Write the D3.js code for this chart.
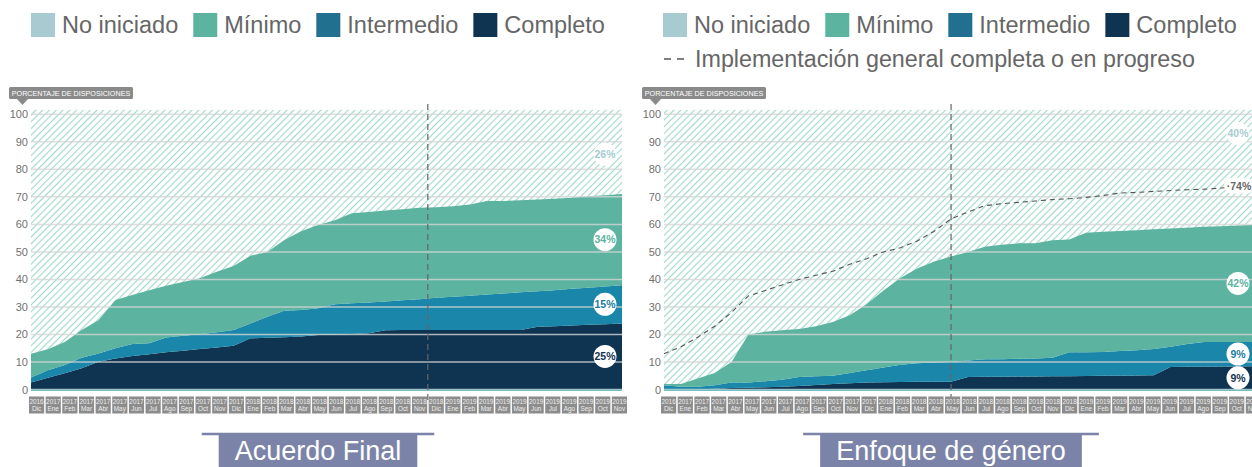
<!DOCTYPE html>
<html>
<head>
<meta charset="utf-8">
<script src="https://cdn.jsdelivr.net/npm/d3@7"></script>
<style>
    body { margin: 0; background: #fff; }
    svg { display: block; font-family: "Liberation Sans", Arial, Helvetica, sans-serif; }
</style>
</head>
<body>
<svg id="chart" width="1252" height="467"></svg>
<script>
// categories / tick labels
const categories = ['No iniciado', 'Mínimo', 'Intermedio', 'Completo']
const periods = [
    '2016 Dic',
    '2017 Ene', '2017 Feb', '2017 Mar', '2017 Abr', '2017 May', '2017 Jun',
    '2017 Jul', '2017 Ago', '2017 Sep', '2017 Oct', '2017 Nov', '2017 Dic',
    '2018 Ene', '2018 Feb', '2018 Mar', '2018 Abr', '2018 May', '2018 Jun',
    '2018 Jul', '2018 Ago', '2018 Sep', '2018 Oct', '2018 Nov', '2018 Dic',
    '2019 Ene', '2019 Feb', '2019 Mar', '2019 Abr', '2019 May', '2019 Jun',
    '2019 Jul', '2019 Ago', '2019 Sep', '2019 Oct', '2019 Nov'
]
const yTicks = [0, 10, 20, 30, 40, 50, 60, 70, 80, 90, 100]

// Acuerdo Final (% of provisions per level)
const acuerdoCompleto = [2.5, 4.3, 5.9, 7.7, 10.1, 11.3, 12.2, 12.8, 13.5, 14.1, 14.7, 15.3, 15.9, 18.6, 18.8, 19, 19.3, 19.8,
    20, 20.2, 20.4, 21.5, 21.6, 21.6, 21.6, 21.6, 21.6, 21.6, 21.6, 21.6, 22.8, 23, 23.3, 23.5, 23.7, 24]
const acuerdoIntermedio = [1.9, 2.7, 3.0, 3.8, 3.0, 3.7, 4.3, 4.0, 5.4, 5.4, 5.4, 5.5, 5.7, 5.4, 7.6, 9.6, 9.6, 9.7,
    11.0, 11.1, 11.2, 10.5, 10.8, 11.2, 11.7, 12.1, 12.5, 12.9, 13.3, 13.7, 12.9, 13.1, 13.3, 13.5, 13.7, 13.9]
const acuerdoMinimo = [8.6, 7.6, 8.4, 10.1, 12.1, 17.5, 17.8, 19.3, 18.8, 19.6, 20.3, 22.0, 23.3, 24.6, 23.6, 25.7, 28.6, 30.3,
    30.5, 32.7, 32.9, 33.0, 33.1, 33.2, 32.9, 32.9, 33.1, 34.0, 33.6, 33.5, 33.3, 33.2, 33.1, 33.2, 33.2, 33.1]
// end-of-series labels: No iniciado, Mínimo, Intermedio, Completo
const acuerdoFinalPct = [26, 34, 15, 25]

// Enfoque de género
const generoCompleto = [0, 0, 0, 0.3, 0.5, 0.6, 0.8, 1, 1.3, 1.6, 2, 2.3, 2.5, 2.6, 2.7, 2.8, 2.8, 2.8,
    4.5, 4.6, 4.6, 4.7, 4.7, 4.8, 4.8, 4.9, 5, 5, 5.1, 5.2, 8.2, 8.3, 8.3, 8.4, 8.4, 8.5]
const generoIntermedio = [1.5, 1, 1, 1.2, 2, 1.9, 2.2, 2.5, 3.2, 3.2, 3, 3.7, 4.5, 5.4, 6.3, 6.7, 7, 7.2,
    6, 6.4, 6.4, 6.5, 6.6, 6.7, 8.7, 8.6, 8.6, 9, 9.2, 9.5, 7.3, 8.2, 9, 8.9, 8.9, 8.8]
const generoMinimo = [0.5, 1, 3, 4.5, 7.5, 17.5, 18, 18, 17.5, 18.2, 19.5, 21, 24, 28, 31.5, 34.5, 36.7, 38.3,
    39.5, 40.9, 41.6, 41.9, 41.8, 42.7, 41, 43.5, 43.7, 43.6, 43.6, 43.5, 43, 42.3, 41.8, 42, 42.3, 42.5]
const generoGeneral = [13, 15.5, 19, 23, 28, 34, 36, 38, 40, 41.5, 43, 45.5, 47.5, 50, 51.5, 54, 57.5, 62,
    64.5, 66.8, 67.5, 68, 68.5, 69, 69.3, 69.8, 70.5, 71.4, 71.6, 72, 72.3, 72.6, 72.8, 73.2, 73.6, 74]
const generoFinalPct = [40, 42, 9, 9]
const generoGeneralPct = 74

const generalLabel = 'Implementación general completa o en progreso'

const colours = {
    'No iniciado': '#a7cbd0',
    'Mínimo': '#5bb3a0',
    'Intermedio': '#1a87aa',
    'Completo': '#0f3452'
}
const legendColours = {
    'No iniciado': '#a7cbd0',
    'Mínimo': '#5bb3a0',
    'Intermedio': '#21708f',
    'Completo': '#0f3452'
}
const badgeText = {
    'No iniciado': '#a7cbd0',
    'Mínimo': '#5bb3a0',
    'Intermedio': '#1b7ba0',
    'Completo': '#0f3452'
}

const svg = d3.select('#chart')
const y = d3.scaleLinear().domain([0, 100]).range([389.5, 114.3])

const defs = svg.append('defs')
defs.append('pattern')
    .attr('id', 'hatch')
    .attr('patternUnits', 'userSpaceOnUse')
    .attr('width', 4.8)
    .attr('height', 4.8)
    .attr('patternTransform', 'rotate(45)')
    .append('line')
    .attr('x1', 2.4).attr('y1', -1).attr('x2', 2.4).attr('y2', 6)
    .attr('stroke', '#a3d8ca')
    .attr('stroke-width', 1.2)

const drawLegend = (x0, yMid, items) => {
    let x = x0
    items.forEach(name => {
        svg.append('rect')
            .attr('x', x).attr('y', yMid - 12)
            .attr('width', 24).attr('height', 24)
            .attr('fill', legendColours[name])
        const t = svg.append('text')
            .attr('x', x + 31).attr('y', yMid)
            .attr('dy', '0.35em')
            .attr('fill', '#666')
            .style('font-size', '23.5px')
            .text(name)
        x += 31 + t.node().getComputedTextLength() + 15
    })
}

const drawPanel = ({ x0, x1, labelX0, labelX1, stackValues, finalPct, general, generalPct, marker, title, topBadgeValue }) => {
    const g = svg.append('g')
    const x = d3.scaleLinear().domain([0, periods.length - 1]).range([x0, x1])
    const xBand = d3.scaleBand().domain(periods).range([labelX0, labelX1]).paddingInner(0.09)

    // hatched "no iniciado" background
    g.append('rect')
        .attr('x', x0).attr('y', y(101.6))
        .attr('width', x1 - x0).attr('height', y(0) - y(101.6))
        .attr('fill', 'url(#hatch)')

    const rows = periods.map((p, i) => ({
        i,
        'Completo': stackValues.Completo[i],
        'Intermedio': stackValues.Intermedio[i],
        'Mínimo': stackValues['Mínimo'][i]
    }))
    const stacked = d3.stack().keys(['Completo', 'Intermedio', 'Mínimo'])(rows)

    const area = d3.area()
        .x(d => x(d.data.i))
        .y0(d => y(d[0]))
        .y1(d => y(d[1]))

    g.selectAll('.layer')
        .data(stacked)
        .join('path')
        .attr('class', 'layer')
        .attr('fill', d => colours[d.key])
        .attr('d', area)

    // gridlines over the areas
    g.selectAll('.grid')
        .data(yTicks)
        .join('line')
        .attr('class', 'grid')
        .attr('x1', x0).attr('x2', x1)
        .attr('y1', d => y(d)).attr('y2', d => y(d))
        .attr('stroke', '#d6d6d6')
        .attr('stroke-opacity', 0.8)
        .attr('stroke-width', 1.5)

    g.append('line')
        .attr('x1', x0).attr('x2', x1)
        .attr('y1', y(0) + 0.8).attr('y2', y(0) + 0.8)
        .attr('stroke', '#72c0c6')
        .attr('stroke-width', 1.4)

    // y axis
    const yAxis = g.append('g')
        .attr('transform', `translate(${x0 - 3},0)`)
        .call(d3.axisLeft(y).tickValues(yTicks).tickSize(0).tickPadding(0))
    yAxis.select('.domain').remove()
    yAxis.selectAll('text')
        .attr('fill', '#707070')
        .style('font-size', '11px')
        .style('font-family', '"Liberation Sans", Arial, sans-serif')

    // axis title tag
    const tag = g.append('g').attr('transform', `translate(${x0 - 22},87)`)
    tag.append('rect')
        .attr('width', 124).attr('height', 12).attr('rx', 1.5)
        .attr('fill', '#8a8a8a')
    tag.append('path')
        .attr('d', 'M8,12 L19,12 L13.5,18 Z')
        .attr('fill', '#8a8a8a')
    tag.append('text')
        .attr('x', 62).attr('y', 6.3)
        .attr('dy', '0.35em')
        .attr('text-anchor', 'middle')
        .attr('fill', '#fff')
        .style('font-size', '7.2px')
        .text('PORCENTAJE DE DISPOSICIONES')

    // general implementation line
    if (general) {
        g.append('path')
            .datum(general)
            .attr('fill', 'none')
            .attr('stroke', '#555')
            .attr('stroke-width', 1.1)
            .attr('stroke-dasharray', '5,4')
            .attr('d', d3.line().x((d, i) => x(i)).y(d => y(d)))
    }

    // marker line
    g.append('line')
        .attr('x1', x(marker)).attr('x2', x(marker))
        .attr('y1', 104).attr('y2', 404)
        .attr('stroke', '#666')
        .attr('stroke-width', 1.2)
        .attr('stroke-dasharray', '6,4')

    // month labels
    const lab = g.selectAll('.lab')
        .data(periods)
        .join('g')
        .attr('class', 'lab')
        .attr('transform', d => `translate(${xBand(d)},396.5)`)
    lab.append('rect')
        .attr('width', xBand.bandwidth()).attr('height', 17)
        .attr('fill', '#8c8c8c')
    lab.append('text')
        .attr('x', xBand.bandwidth() / 2).attr('y', 7)
        .attr('text-anchor', 'middle')
        .attr('fill', '#eee')
        .style('font-size', '6.4px')
        .text(d => d.split(' ')[0])
    lab.append('text')
        .attr('x', xBand.bandwidth() / 2).attr('y', 14.6)
        .attr('text-anchor', 'middle')
        .attr('fill', '#eee')
        .style('font-size', '6.4px')
        .text(d => d.split(' ')[1])

    // end badges
    const last = periods.length - 1
    const bx = x1 - 17
    const badge = (val, name, label) => {
        g.append('circle')
            .attr('cx', bx).attr('cy', y(val)).attr('r', 11.5)
            .attr('fill', '#fff')
        g.append('text')
            .attr('x', bx).attr('y', y(val))
            .attr('dy', '0.36em')
            .attr('text-anchor', 'middle')
            .attr('fill', badgeText[name])
            .style('font-size', '10.5px')
            .style('font-weight', 'bold')
            .text(label)
    }
    stacked.forEach(s => {
        const d = s[last]
        badge((d[0] + d[1]) / 2, s.key, `${finalPct[categories.indexOf(s.key)]}%`)
    })
    const total = stacked[stacked.length - 1][last][1]
    badge(topBadgeValue !== undefined ? topBadgeValue : (total + 100) / 2, 'No iniciado', `${finalPct[0]}%`)

    if (general) {
        const gv = general[last]
        g.append('rect')
            .attr('x', bx - 14).attr('y', y(gv) - 8)
            .attr('width', 30).attr('height', 16).attr('rx', 8)
            .attr('fill', '#fff')
        g.append('text')
            .attr('x', bx + 1).attr('y', y(gv))
            .attr('dy', '0.36em')
            .attr('text-anchor', 'middle')
            .attr('fill', '#666')
            .style('font-size', '10.5px')
            .style('font-weight', 'bold')
            .text(`·${generalPct}%`)
    }

    // title
    const cx = x0 + 287
    const tt = svg.append('text')
        .attr('x', cx).attr('y', 460)
        .attr('text-anchor', 'middle')
        .attr('fill', '#fff')
        .style('font-size', '27px')
        .text(title)
    const tw = tt.node().getComputedTextLength()
    svg.insert('rect', () => tt.node())
        .attr('x', cx - tw / 2 - 16).attr('y', 434)
        .attr('width', tw + 32).attr('height', 33)
        .attr('fill', '#7b84a8')
    svg.append('line')
        .attr('x1', cx - tw / 2 - 33).attr('x2', cx + tw / 2 + 33)
        .attr('y1', 434).attr('y2', 434)
        .attr('stroke', '#7b84a8')
        .attr('stroke-width', 2.5)
}

drawLegend(31, 25, categories)
drawLegend(663, 25, categories)
svg.append('line')
    .attr('x1', 664).attr('x2', 688)
    .attr('y1', 59).attr('y2', 59)
    .attr('stroke', '#555')
    .attr('stroke-width', 1.6)
    .attr('stroke-dasharray', '7,6')
svg.append('text')
    .attr('x', 695).attr('y', 59)
    .attr('dy', '0.35em')
    .attr('fill', '#666')
    .style('font-size', '23.3px')
    .text(generalLabel)

drawPanel({
    x0: 31, x1: 622, labelX0: 29, labelX1: 627,
    stackValues: { 'Completo': acuerdoCompleto, 'Intermedio': acuerdoIntermedio, 'Mínimo': acuerdoMinimo },
    finalPct: acuerdoFinalPct,
    marker: 23.5,
    title: 'Acuerdo Final'
})

drawPanel({
    x0: 664, x1: 1255, labelX0: 661, labelX1: 1261,
    stackValues: { 'Completo': generoCompleto, 'Intermedio': generoIntermedio, 'Mínimo': generoMinimo },
    finalPct: generoFinalPct,
    general: generoGeneral,
    generalPct: generoGeneralPct,
    marker: 17,
    title: 'Enfoque de género',
    topBadgeValue: 93
})
</script>
</body>
</html>
